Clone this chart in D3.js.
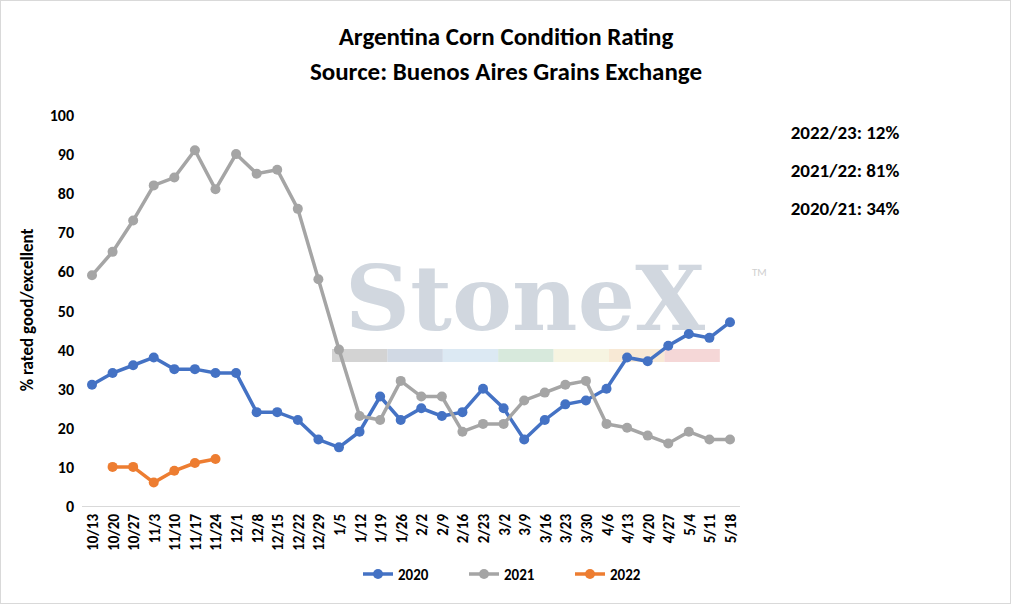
<!DOCTYPE html>
<html>
<head>
<script src="https://d3js.org/d3.v7.min.js"></script>
<style>
body{margin:0;background:#fff;}
</style>
</head>
<body>
<svg id="chart" width="1011" height="604"></svg>
<script>
const weeks = ["10/13","10/20","10/27","11/3","11/10","11/17","11/24","12/1","12/8","12/15","12/22","12/29","1/5","1/12","1/19","1/26","2/2","2/9","2/16","2/23","3/2","3/9","3/16","3/23","3/30","4/6","4/13","4/20","4/27","5/4","5/11","5/18"];
const s2020 = [31,34,36,38,35,35,34,34,24,24,22,17,15,19,28,22,25,23,24,30,25,17,22,26,27,30,38,37,41,44,43,47];
const s2021 = [59,65,73,82,84,91,81,90,85,86,76,58,40,23,22,32,28,28,19,21,21,27,29,31,32,21,20,18,16,19,17,17];
const s2022 = [null,10,10,6,9,11,12];
const seriesNames = ["2020","2021","2022"];
const colors = ["#4472C4","#A5A5A5","#ED7D31"];
const notes = ["2022/23: 12%","2021/22: 81%","2020/21: 34%"];

const svg = d3.select("#chart");
const font = "Carlito,'Open Sans','Noto Sans',Arial,sans-serif";
svg.append("rect").attr("x",0.5).attr("y",0.5).attr("width",1010).attr("height",603).attr("fill","#fff").attr("stroke","#d9d9d9");

const x = d3.scalePoint().domain(weeks).range([92,730]);
const y = d3.scaleLinear().domain([0,100]).range([506,115]);

// title
svg.append("text").attr("x",506).attr("y",45).attr("text-anchor","middle").attr("font-size",25).attr("font-weight","bold").attr("font-family",font).text("Argentina Corn Condition Rating");
svg.append("text").attr("x",506).attr("y",80).attr("text-anchor","middle").attr("font-size",25).attr("font-weight","bold").attr("font-family",font).text("Source: Buenos Aires Grains Exchange");

// watermark
svg.append("text").attr("x",525).attr("y",330).attr("text-anchor","middle").attr("font-size",90).attr("font-weight","bold").attr("font-family","'DejaVu Serif',serif").attr("fill","#c9d1da").attr("opacity",0.85).attr("textLength",360).text("StoneX");
svg.append("text").attr("x",752).attr("y",276).attr("font-size",11).attr("fill","#d0d0d0").attr("font-family",font).text("TM");
const wm = ["#c8c8c8","#c5d0dd","#d3e3f0","#cde3d3","#f4f1d9","#f6e3cb","#f2cdcd"];
wm.forEach((c,i)=>svg.append("rect").attr("x",332+i*55.4).attr("y",349).attr("width",55.4).attr("height",13).attr("fill",c).attr("opacity",0.8));

// y axis
const yt = d3.range(0,101,10);
svg.append("g").selectAll("text").data(yt).join("text")
  .attr("x",74).attr("y",d=>y(d)+6).attr("text-anchor","end").attr("font-size",16).attr("font-weight",600).attr("font-family",font).text(d=>d);
svg.append("text").attr("transform","translate(33,310) rotate(-90)").attr("text-anchor","middle").attr("font-size",17).attr("font-weight",600).attr("font-family",font).text("% rated good/excellent");

// x axis
svg.append("line").attr("x1",82).attr("x2",740).attr("y1",506.5).attr("y2",506.5).attr("stroke","#d9d9d9");
svg.append("g").selectAll("text").data(weeks).join("text")
  .attr("transform",d=>`translate(${x(d)+6},514) rotate(-90)`).attr("text-anchor","end").attr("font-size",15).attr("font-weight",600).attr("font-family",font).text(d=>d);

// series
const line = d3.line().defined(d=>d.v!=null).x(d=>x(d.k)).y(d=>y(d.v));
[s2020,s2021,s2022].forEach((s,i)=>{
  const pts = s.map((v,j)=>({k:weeks[j],v}));
  svg.append("path").datum(pts).attr("d",line).attr("fill","none").attr("stroke",colors[i]).attr("stroke-width",3.5);
  svg.append("g").selectAll("circle").data(pts.filter(d=>d.v!=null)).join("circle")
    .attr("cx",d=>x(d.k)).attr("cy",d=>y(d.v)).attr("r",5).attr("fill",colors[i]);
});

// notes
notes.forEach((t,i)=>svg.append("text").attr("x",845).attr("y",139+i*38).attr("text-anchor","middle").attr("font-size",19).attr("font-weight",600).attr("font-family",font).text(t));

// legend
seriesNames.forEach((n,i)=>{
  const lx = 363+i*106;
  svg.append("line").attr("x1",lx).attr("x2",lx+30).attr("y1",574).attr("y2",574).attr("stroke",colors[i]).attr("stroke-width",3.5);
  svg.append("circle").attr("cx",lx+15).attr("cy",574).attr("r",5).attr("fill",colors[i]);
  svg.append("text").attr("x",lx+35).attr("y",580).attr("font-size",15).attr("font-weight","bold").attr("font-family",font).text(n);
});
</script>
</body>
</html>
